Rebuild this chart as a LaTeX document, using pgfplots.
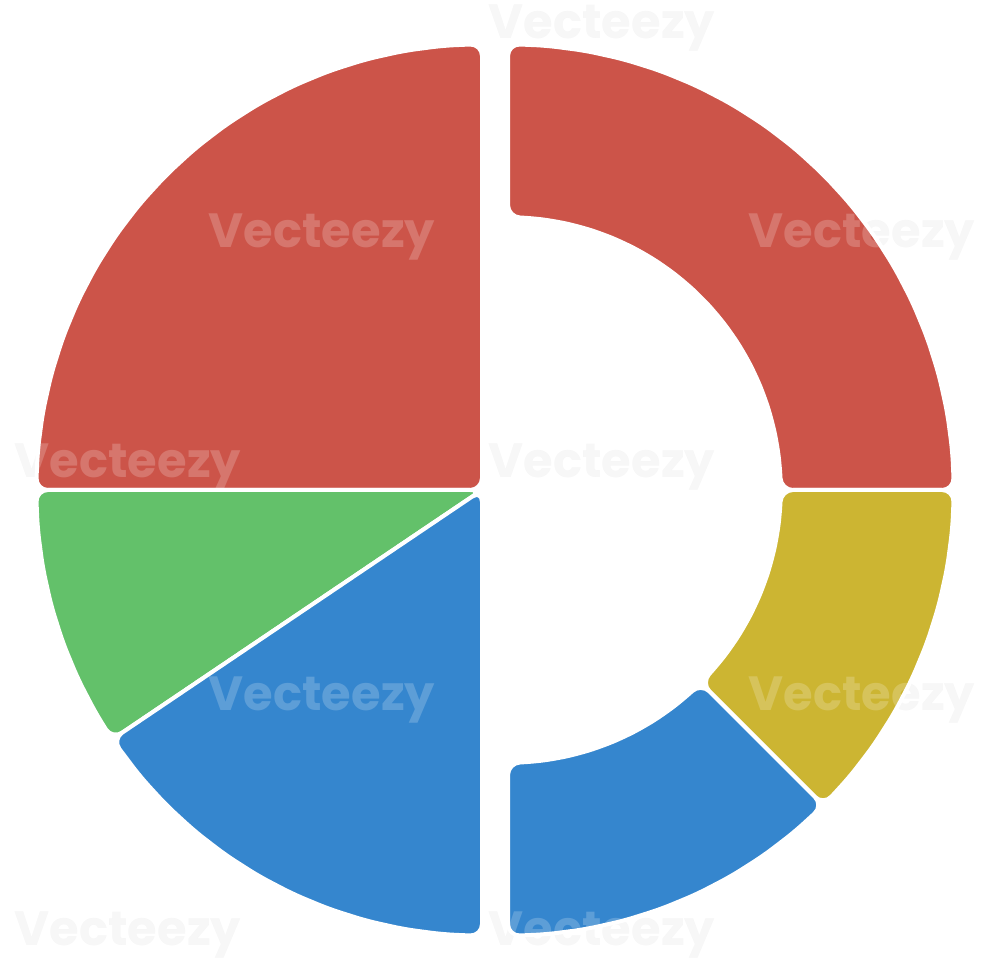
\documentclass[border=0pt]{standalone}
\usepackage{pgfplots}
\pgfplotsset{compat=1.18}
\usepackage{fontspec}
\setmainfont{Poppins}

\definecolor{pRed}{HTML}{CC5449}
\definecolor{pGreen}{HTML}{63C16A}
\definecolor{pBlue}{HTML}{3586CE}
\definecolor{pYellow}{HTML}{CCB532}

% 1 axis unit = 1pt = 1 px of the reference
\pgfplotsset{
  pieax/.style={hide axis, scale only axis, width=980pt, height=980pt,
    ymin=-490, ymax=490, clip=false},
  slice/.style={data cs=polar, draw=white, line width=4pt,
    rounded corners=12pt, line join=round},
}

\newcommand\wm[1]{%
  \foreach \x/\y in {322/237, 862/237, 322/700, 862/700,
                     128/467, 602/467, 128/935, 602/935, 602/28}
    \node[#1, font=\fontsize{48}{50}\selectfont\bfseries]
      at (\x pt, 980pt-\y pt) {Vecteezy};}

\begin{document}
\begin{tikzpicture}
\useasboundingbox (0,0) rectangle (980pt,980pt);
\wm{text=black!4}

% left half: full pie
\begin{axis}[pieax, xmin=-482, xmax=498]
\addplot[slice, fill=pRed] coordinates {
  (90,0) (90,446) (95,446) (100,446) (105,446) (110,446) (115,446)
  (120,446) (125,446) (130,446) (135,446) (140,446) (145,446) (150,446)
  (155,446) (160,446) (165,446) (170,446) (175,446) (180,446)} -- cycle;
\addplot[slice, fill=pGreen] coordinates {
  (180,0) (180,446) (185,446) (190,446) (195,446) (200,446) (205,446)
  (210,446) (214,446)} -- cycle;
\addplot[slice, fill=pBlue] coordinates {
  (214,0) (214,446) (220,446) (225,446) (230,446) (235,446) (240,446)
  (245,446) (250,446) (255,446) (260,446) (265,446) (270,446)} -- cycle;
\end{axis}

% right half: donut
\begin{axis}[pieax, xmin=-508, xmax=472]
\addplot[slice, fill=pRed] coordinates {
  (90,446) (85,446) (80,446) (75,446) (70,446) (65,446) (60,446)
  (55,446) (50,446) (45,446) (40,446) (35,446) (30,446) (25,446)
  (20,446) (15,446) (10,446) (5,446) (0,446)
  (0,273) (5,273) (10,273) (15,273) (20,273) (25,273) (30,273)
  (35,273) (40,273) (45,273) (50,273) (55,273) (60,273) (65,273)
  (70,273) (75,273) (80,273) (85,273) (90,273)} -- cycle;
\addplot[slice, fill=pYellow] coordinates {
  (0,446) (-5,446) (-10,446) (-15,446) (-20,446) (-25,446) (-30,446)
  (-35,446) (-40,446) (-45,446)
  (-45,273) (-40,273) (-35,273) (-30,273) (-25,273) (-20,273)
  (-15,273) (-10,273) (-5,273) (0,273)} -- cycle;
\addplot[slice, fill=pBlue] coordinates {
  (-45,446) (-50,446) (-55,446) (-60,446) (-65,446) (-70,446) (-75,446)
  (-80,446) (-85,446) (-90,446)
  (-90,273) (-85,273) (-80,273) (-75,273) (-70,273) (-65,273)
  (-60,273) (-55,273) (-50,273) (-45,273)} -- cycle;
\end{axis}

\wm{text=white, opacity=0.2}
\end{tikzpicture}
\end{document}
